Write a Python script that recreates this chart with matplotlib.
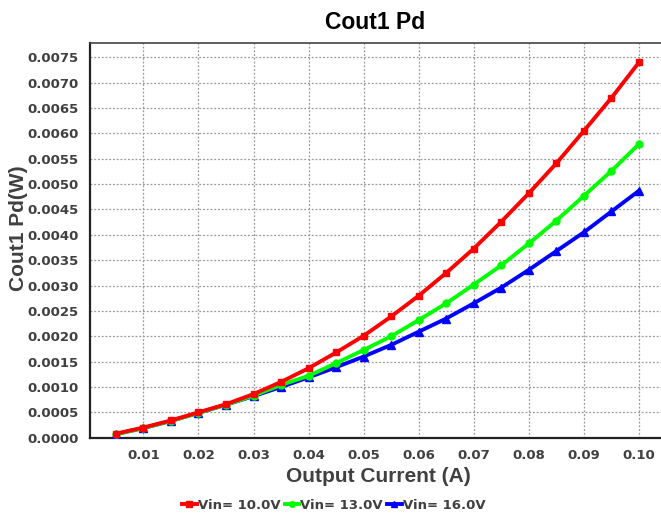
import numpy as np
import matplotlib
matplotlib.use("Agg")
import matplotlib.pyplot as plt
from matplotlib.ticker import FormatStrFormatter

# Output current (A)
current = [0.005, 0.010, 0.015, 0.020, 0.025, 0.030, 0.035, 0.040, 0.045, 0.050,
           0.055, 0.060, 0.065, 0.070, 0.075, 0.080, 0.085, 0.090, 0.095, 0.100]

# Cout1 power dissipation (W) per input voltage
pd_10v = [0.00008, 0.00020, 0.00034, 0.00050, 0.00066, 0.00086, 0.00110, 0.00137, 0.00168, 0.00201,
          0.00239, 0.00280, 0.00325, 0.00373, 0.00426, 0.00482, 0.00541, 0.00605, 0.00670, 0.00740]
pd_13v = [0.00007, 0.00019, 0.00033, 0.00049, 0.00065, 0.00083, 0.00104, 0.00122, 0.00147, 0.00173,
          0.00200, 0.00232, 0.00265, 0.00302, 0.00340, 0.00383, 0.00428, 0.00477, 0.00526, 0.00579]
pd_16v = [0.00007, 0.00019, 0.00033, 0.00049, 0.00065, 0.00082, 0.00100, 0.00119, 0.00139, 0.00160,
          0.00183, 0.00209, 0.00235, 0.00265, 0.00296, 0.00331, 0.00368, 0.00405, 0.00446, 0.00487]

series_labels = ["Vin= 10.0V", "Vin= 13.0V", "Vin= 16.0V"]
xticks = [0.01, 0.02, 0.03, 0.04, 0.05, 0.06, 0.07, 0.08, 0.09, 0.10]
yticks = np.arange(0, 0.00751, 0.0005)

txt = '#404040'
fig = plt.figure(figsize=(6.61, 5.15), dpi=100)
ax = fig.add_axes([0.1362, 0.1501, 0.8638, 0.7658])

# draw blue first so red sits on top where the curves overlap
l3, = ax.plot(current, pd_16v, color='#0000ff', lw=2.8, marker='^', ms=5.5, zorder=3)
l2, = ax.plot(current, pd_13v, color='#00ff00', lw=2.8, marker='o', ms=5, zorder=4)
l1, = ax.plot(current, pd_10v, color='#ff0000', lw=2.8, marker='s', ms=5, zorder=5)

ax.set_xlim(0.0003, 0.104)
ax.set_ylim(0, 0.007776)
ax.set_xticks(xticks)
ax.set_yticks(yticks)
ax.xaxis.set_major_formatter(FormatStrFormatter('%.2f'))
ax.yaxis.set_major_formatter(FormatStrFormatter('%.4f'))
ax.tick_params(length=0, pad=8, colors=txt, labelsize=9.5)
for lab in ax.get_xticklabels() + ax.get_yticklabels():
    lab.set_fontweight('bold')
    lab.set_family('DejaVu Sans')

ax.grid(True, color='#999999', linestyle=(0, (1.5, 1.5)), linewidth=0.9)
ax.spines['right'].set_visible(False)
for s in ['left', 'bottom']:
    ax.spines[s].set_color('#222222')
    ax.spines[s].set_linewidth(1.6)
ax.spines['top'].set_color('#444444')
ax.spines['top'].set_linewidth(1.2)

ax.set_title("Cout1 Pd", fontsize=16.5, fontweight='bold', family='Liberation Sans',
             color='black', pad=10)
ax.set_xlabel("Output Current (A)", fontsize=15, fontweight='bold',
              family='Liberation Sans', color=txt)
ax.set_ylabel("Cout1 Pd(W)", fontsize=15, fontweight='bold',
              family='Liberation Sans', color=txt)
ax.xaxis.set_label_coords(0.505, -0.075)
ax.yaxis.set_label_coords(-0.108, 0.532)

leg = fig.legend([l1, l2, l3], series_labels, loc='center', bbox_to_anchor=(0.505, 0.019),
                 ncol=3, frameon=False, handlelength=1.1, handletextpad=0.1,
                 columnspacing=0.3, markerscale=0.8,
                 prop={'family': 'DejaVu Sans', 'weight': 'bold', 'size': 9.5})
for t in leg.get_texts():
    t.set_color(txt)

fig.savefig("out.png", dpi=100)
